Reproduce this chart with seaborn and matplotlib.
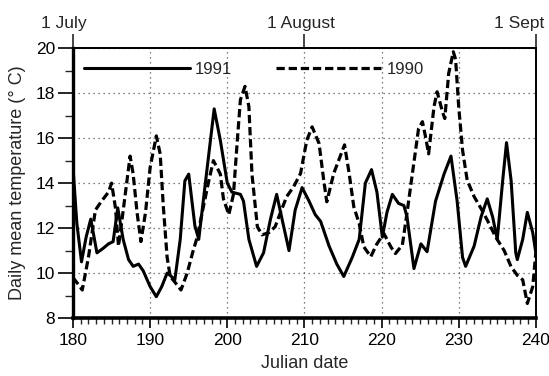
import matplotlib
matplotlib.use("Agg")
import matplotlib.pyplot as plt
import matplotlib.transforms as mtransforms
import seaborn as sns
import numpy as np

# ---- data ----
days_1991 = [180.0, 180.5, 181.1, 181.7, 182.3, 183.1, 183.9, 184.6, 185.2, 185.8, 186.5, 187.2,
             187.8, 188.5, 189.1, 190.0, 190.8, 191.5, 192.2, 192.6, 193.2, 193.9, 194.5, 195.0,
             195.8, 196.3, 197.4, 198.3, 199.1, 200.0, 200.6, 201.7, 202.1, 202.8, 203.8, 204.7,
             205.6, 206.4, 207.1, 208.0, 208.8, 209.7, 210.6, 211.4, 212.1, 213.2, 214.2, 215.1,
             216.2, 217.1, 217.9, 218.7, 219.4, 220.1, 220.7, 221.4, 222.2, 222.9, 223.3, 224.2,
             225.1, 225.9, 227.0, 228.1, 229.0, 229.8, 230.5, 230.9, 232.0, 232.9, 233.7, 234.4,
             235.0, 235.7, 236.2, 236.8, 237.4, 237.6, 238.3, 238.9, 239.6, 240.0]
temp_1991 = [14.7, 12.2, 10.5, 11.6, 12.4, 10.9, 11.1, 11.3, 11.4, 12.9, 11.5, 10.6,
             10.3, 10.4, 10.1, 9.4, 8.95, 9.4, 10.0, 9.9, 9.7, 11.5, 14.1, 14.4,
             12.1, 11.5, 14.7, 17.3, 15.9, 14.0, 13.6, 13.5, 13.2, 11.5, 10.3, 10.9,
             12.4, 13.5, 12.4, 11.0, 12.8, 13.8, 13.2, 12.6, 12.3, 11.2, 10.4, 9.85,
             10.7, 11.5, 14.0, 14.6, 13.6, 11.6, 12.7, 13.5, 13.1, 13.0, 12.5, 10.2,
             11.3, 10.95, 13.2, 14.4, 15.2, 13.2, 10.7, 10.3, 11.2, 12.5, 13.3, 12.5,
             11.5, 14.1, 15.8, 14.1, 10.9, 10.6, 11.5, 12.7, 11.8, 10.9]

days_1990 = [180.0, 180.9, 181.2, 182.0, 182.9, 183.7, 184.6, 185.0, 185.5, 185.9, 186.4, 187.4,
             187.8, 188.3, 188.8, 189.4, 190.0, 190.8, 191.3, 191.7, 192.2, 192.6, 193.2, 194.0,
             194.8, 195.5, 196.1, 196.9, 197.6, 198.2, 199.1, 199.5, 200.2, 200.8, 201.3, 201.7,
             202.3, 202.8, 203.2, 203.9, 204.5, 205.4, 206.2, 206.9, 207.7, 208.6, 209.5, 210.3,
             211.0, 211.9, 212.5, 212.9, 213.8, 215.2, 215.8, 216.4, 217.1, 217.7, 218.6, 219.4,
             220.3, 221.2, 221.8, 222.7, 223.3, 224.0, 224.8, 225.3, 225.7, 226.1, 226.8, 227.2,
             227.9, 228.2, 228.7, 229.3, 229.6, 230.0, 230.5, 231.1, 232.0, 232.9, 233.7, 234.8,
             235.9, 236.8, 237.6, 238.3, 238.9, 239.6, 240.0]
temp_1990 = [9.8, 9.4, 9.25, 10.7, 12.8, 13.2, 13.6, 14.0, 12.9, 11.2, 12.5, 15.2,
             14.4, 12.7, 11.4, 12.7, 14.7, 16.1, 15.3, 13.0, 10.7, 9.85, 9.6, 9.25,
             10.0, 10.9, 11.6, 12.95, 14.1, 15.0, 14.4, 13.3, 12.6, 13.5, 15.9, 17.7,
             18.3, 17.4, 14.4, 12.06, 11.7, 11.8, 12.06, 12.7, 13.4, 13.84, 14.43, 15.9,
             16.5, 15.76, 14.13, 13.17, 14.43, 15.7, 14.43, 12.95, 12.2, 11.17, 10.73, 11.3,
             11.76, 11.17, 10.87, 11.25, 12.67, 14.43, 16.43, 16.73, 16.06, 15.3, 17.4, 18.06,
             17.17, 16.87, 18.87, 19.84, 19.5, 17.4, 15.47, 14.13, 13.4, 12.87, 12.36, 11.6,
             11.0, 10.28, 9.9, 9.7, 8.65, 9.4, 10.9]

series_labels = ["1991", "1990"]
top_tick_days = [180, 210, 240]
top_tick_labels = ["1 July", "1 August", "1 Sept"]

# ---- plotting ----
sns.set_style("ticks")
plt.rcParams['font.family'] = ['Liberation Sans', 'DejaVu Sans']

fig = plt.figure(figsize=(5.49, 3.76), dpi=100)
ax = fig.add_axes([0.133, 0.154, 0.843, 0.718])

sns.lineplot(x=days_1991, y=temp_1991, ax=ax, color="black", linewidth=2.2,
             label=series_labels[0])
sns.lineplot(x=days_1990, y=temp_1990, ax=ax, color="black", linewidth=2.3,
             linestyle=(0, (2.6, 1.2)), label=series_labels[1])

ax.set_xlim(180, 240)
ax.set_ylim(8, 20)
ax.set_xticks(np.arange(180, 241, 10))
ax.set_xticks(np.arange(180, 241, 1), minor=True)
ax.set_yticks(np.arange(8, 21, 2))
ax.set_yticks(np.arange(9, 20, 2), minor=True)
ax.tick_params(axis='x', which='major', direction='out', length=7, width=1.2,
               labelsize=12.5, colors='black', pad=4)
ax.tick_params(axis='x', which='minor', direction='out', length=4, width=1.0)
ax.tick_params(axis='y', which='major', direction='out', length=11, width=1.2,
               labelsize=12.5, colors='black', pad=2)
ax.tick_params(axis='y', which='minor', direction='out', length=6, width=1.0)

ax.grid(True, which='major', linestyle=(0, (1, 3)), color='#555555', linewidth=0.9)

for side, w in [('bottom', 2.6), ('left', 2.4), ('top', 1.4), ('right', 1.4)]:
    ax.spines[side].set_visible(True)
    ax.spines[side].set_linewidth(w)
    ax.spines[side].set_color('black')

ax.set_xlabel("Julian date", fontsize=13)
ax.set_ylabel("Daily mean temperature (° C)", fontsize=13)
ax.xaxis.set_label_coords(0.5, -0.138)
ax.yaxis.set_label_coords(-0.102, 0.5)

secax = ax.secondary_xaxis('top')
secax.set_xticks(top_tick_days, labels=top_tick_labels)
secax.tick_params(direction='out', length=10, width=1.2, labelsize=12.5, pad=2)
secax.spines['top'].set_linewidth(1.4)
for lab, dx in zip(secax.get_xticklabels(), [-9, -3, -17]):
    lab.set_transform(lab.get_transform() +
                      mtransforms.ScaledTranslation(dx / 100, 0, fig.dpi_scale_trans))

leg = ax.legend(ncol=2, loc='upper left', bbox_to_anchor=(0.024, 0.948),
                frameon=False, handlelength=6.35, handletextpad=0.3,
                columnspacing=2.6, borderaxespad=0, borderpad=0, fontsize=12)

fig.savefig("out.png", dpi=100)
